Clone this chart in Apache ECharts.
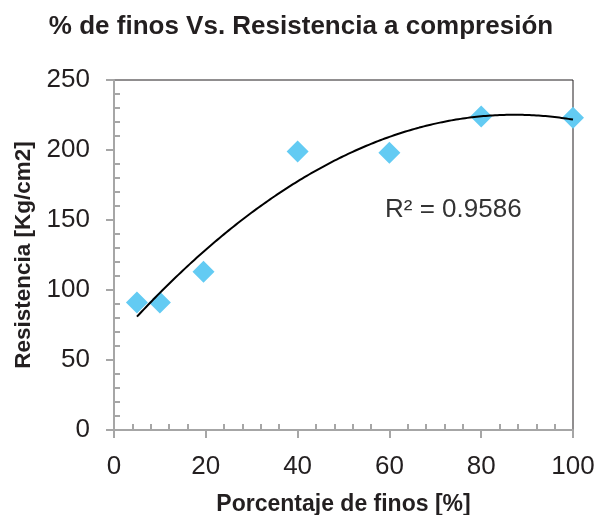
<!DOCTYPE html>
<html>
<head>
<meta charset="utf-8">
<script src="https://cdn.jsdelivr.net/npm/echarts@6/dist/echarts.min.js"></script>
<style>
  html, body { margin: 0; padding: 0; background: #fff; }
  #chart { width: 602px; height: 515px; }
</style>
</head>
<body>
<div id="chart"></div>
<script>
// % de finos
var finos = [5, 10, 19.5, 40, 60, 80, 100];
// resistencia [Kg/cm2]
var resistencia = [91, 91, 113, 199, 198, 224, 223];
var xTicks = [0, 20, 40, 60, 80, 100];
var yTicks = [0, 50, 100, 150, 200, 250];
var r2Text = 'R² = 0.9586';

var textColor = '#231F20';
var axisGray = '#A6A6A6';

// polynomial (order 2) trendline, least squares like Excel does
function polyFit2(xs, ys) {
    var s = [0, 0, 0, 0, 0], t = [0, 0, 0];
    for (var i = 0; i < xs.length; i++) {
        var p = 1;
        for (var k = 0; k < 5; k++) {
            s[k] += p;
            if (k < 3) t[k] += p * ys[i];
            p *= xs[i];
        }
    }
    var m = [
        [s[0], s[1], s[2], t[0]],
        [s[1], s[2], s[3], t[1]],
        [s[2], s[3], s[4], t[2]]
    ];
    for (var c = 0; c < 3; c++) {
        for (var r = c + 1; r < 3; r++) {
            var f = m[r][c] / m[c][c];
            for (var j = c; j < 4; j++) m[r][j] -= f * m[c][j];
        }
    }
    var b = [0, 0, 0];
    for (var r2 = 2; r2 >= 0; r2--) {
        var v = m[r2][3];
        for (var j2 = r2 + 1; j2 < 3; j2++) v -= m[r2][j2] * b[j2];
        b[r2] = v / m[r2][r2];
    }
    return b;
}

var coef = polyFit2(finos, resistencia);
var trend = [];
var xMin = finos[0], xMax = finos[finos.length - 1];
for (var x = xMin; x <= xMax + 1e-9; x += 0.5) {
    trend.push([x, coef[0] + coef[1] * x + coef[2] * x * x]);
}

var points = finos.map(function (v, i) { return [v, resistencia[i]]; });

var chart = echarts.init(document.getElementById('chart'));

var baseX = {
    type: 'value',
    min: xTicks[0],
    max: xTicks[xTicks.length - 1],
    interval: xTicks[1] - xTicks[0],
    position: 'bottom',
    splitLine: { show: false }
};
var baseY = {
    type: 'value',
    min: yTicks[0],
    max: yTicks[yTicks.length - 1],
    interval: yTicks[1] - yTicks[0],
    position: 'left',
    splitLine: { show: false }
};

chart.setOption({
    animation: false,
    title: {
        text: '% de finos Vs. Resistencia a compresión',
        left: 'center',
        top: 9,
        textStyle: {
            fontFamily: 'Liberation Sans',
            fontSize: 26,
            fontWeight: 'bold',
            color: textColor
        }
    },
    grid: {
        left: 114,
        right: 29,
        top: 80,
        bottom: 85,
        outerBoundsMode: 'none',
        containLabel: false,
        show: true,
        borderColor: '#231F20',
        borderWidth: 1
    },
    xAxis: [
        Object.assign({}, baseX, {
            name: 'Porcentaje de finos [%]',
            nameLocation: 'middle',
            nameGap: 63,
            nameTextStyle: {
                fontFamily: 'Liberation Sans',
                fontSize: 23,
                fontWeight: 'bold',
                color: textColor
            },
            axisLine: { lineStyle: { color: axisGray, width: 2 } },
            axisTick: { length: 8, lineStyle: { color: axisGray, width: 2 } },
            axisLabel: {
                margin: 24,
                fontFamily: 'Liberation Sans',
                fontSize: 26,
                color: textColor
            }
        }),
        Object.assign({}, baseX, {
            axisLine: { show: false },
            axisTick: { show: false, inside: true },
            axisLabel: { show: false },
            minorTick: { show: true, splitNumber: 5, length: 6, lineStyle: { color: axisGray, width: 2 } }
        })
    ],
    yAxis: [
        Object.assign({}, baseY, {
            name: 'Resistencia [Kg/cm2]',
            nameLocation: 'middle',
            nameGap: 77,
            nameTextStyle: {
                fontFamily: 'Liberation Sans',
                fontSize: 22.5,
                fontWeight: 'bold',
                color: textColor
            },
            axisLine: { show: true, lineStyle: { color: axisGray, width: 2 } },
            axisTick: { show: true, length: 8, lineStyle: { color: axisGray, width: 2 } },
            axisLabel: {
                margin: 24,
                fontFamily: 'Liberation Sans',
                fontSize: 26,
                color: textColor
            }
        }),
        Object.assign({}, baseY, {
            axisLine: { show: false },
            axisTick: { show: false, inside: true },
            axisLabel: { show: false },
            minorTick: { show: true, splitNumber: 5, length: 6, lineStyle: { color: axisGray, width: 2 } }
        })
    ],
    graphic: [{
        type: 'text',
        left: 385,
        top: 197,
        style: {
            text: r2Text,
            fontFamily: 'Liberation Sans',
            fontSize: 26,
            fill: '#333333'
        }
    }],
    series: [
        {
            type: 'scatter',
            xAxisIndex: 0,
            yAxisIndex: 0,
            symbol: 'diamond',
            symbolSize: 22,
            itemStyle: { color: '#63CBF3', opacity: 1 },
            data: points,
            z: 3
        },
        {
            type: 'line',
            xAxisIndex: 0,
            yAxisIndex: 0,
            showSymbol: false,
            smooth: false,
            lineStyle: { color: '#000000', width: 2 },
            data: trend,
            z: 4
        }
    ]
});
</script>
</body>
</html>
